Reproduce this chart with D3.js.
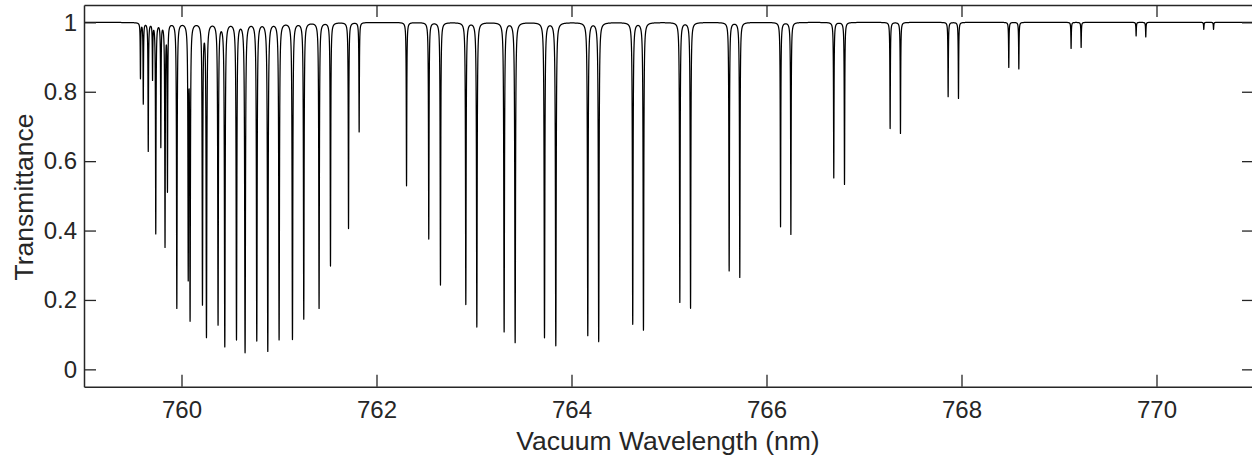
<!DOCTYPE html>
<html><head><meta charset="utf-8">
<script src="https://cdn.jsdelivr.net/npm/d3@7"></script>
<style>
body{margin:0;background:#fff}
svg{display:block}
text{font-family:"Liberation Sans",Arial,Helvetica,sans-serif}
</style>
</head><body>
<svg id="chart" width="1252" height="456"></svg>
<script>
// Absorption line centres (nm) and transmittance at each line minimum
const lineCenters = [
  759.579, 759.608, 759.659, 759.703, 759.736, 759.788, 759.831, 759.856,
  759.952, 760.069, 760.088, 760.215, 760.256, 760.375, 760.444, 760.564,
  760.652, 760.772, 760.885, 761.001, 761.138, 761.254, 761.411, 761.528,
  761.713, 761.822,
  762.308, 762.536, 762.656, 762.916, 763.029, 763.309, 763.422, 763.723,
  763.839, 764.167, 764.279, 764.628, 764.738, 765.111, 765.221, 765.617,
  765.726, 766.144, 766.250, 766.690, 766.800, 767.268, 767.374, 767.863,
  767.969, 768.485, 768.588, 769.124, 769.227, 769.791, 769.890, 770.485,
  770.585
];
const lineMinT = [
  0.840, 0.767, 0.630, 0.840, 0.392, 0.644, 0.355, 0.517,
  0.176, 0.264, 0.142, 0.187, 0.092, 0.128, 0.065, 0.085,
  0.048, 0.082, 0.052, 0.085, 0.086, 0.145, 0.176, 0.298,
  0.406, 0.685,
  0.529, 0.376, 0.243, 0.187, 0.122, 0.108, 0.077, 0.091,
  0.068, 0.097, 0.080, 0.130, 0.113, 0.193, 0.176, 0.284,
  0.265, 0.411, 0.389, 0.552, 0.533, 0.694, 0.680, 0.786,
  0.781, 0.870, 0.866, 0.925, 0.928, 0.961, 0.958, 0.980,
  0.980
];
const lineHalfWidth = 0.0025; // nm, Lorentzian half width of each line
const xDomain = [759, 771];
const yDomain = [-0.05, 1.05];
const xTicks = [760, 762, 764, 766, 768, 770];
const yTicks = [0, 0.2, 0.4, 0.6, 0.8, 1];
const xLabel = "Vacuum Wavelength (nm)";
const yLabel = "Transmittance";

const svg = d3.select("#chart");
const L = 84, R = 1254, T = 5, B = 386.7;
const axisColor = "#262626";

const x = d3.scaleLinear().domain(xDomain).range([L, R]);
const y = d3.scaleLinear().domain(yDomain).range([B, T]);

// spectrum: transmittance built from the line list
const tau = lineMinT.map(t => -Math.log(t));
const pts = [];
const step = 0.0005;
const grid = d3.range(xDomain[0], xDomain[1] + step / 2, step).concat(lineCenters);
grid.sort((a, b) => a - b);
for (const w of grid) {
  let od = 0;
  for (let i = 0; i < lineCenters.length; i++) {
    const d = (w - lineCenters[i]) / lineHalfWidth;
    od += tau[i] / (1 + d * d);
  }
  pts.push([w, Math.exp(-od)]);
}

svg.append("defs").append("clipPath").attr("id", "clip")
  .append("rect").attr("x", L).attr("y", T).attr("width", R - L).attr("height", B - T);

svg.append("path")
  .datum(pts)
  .attr("clip-path", "url(#clip)")
  .attr("fill", "none")
  .attr("stroke", "#000")
  .attr("stroke-width", 1.25)
  .attr("stroke-linejoin", "round")
  .attr("d", d3.line().x(d => x(d[0])).y(d => y(d[1])));

const tickLen = 12;
function styleAxis(g) {
  g.attr("color", axisColor);
  g.select(".domain").attr("stroke-width", 1.5);
  g.selectAll(".tick line").attr("stroke-width", 1.3);
  g.selectAll("text").attr("font-size", 24).attr("fill", axisColor);
}

svg.append("g").attr("transform", `translate(0,${B})`)
  .call(d3.axisBottom(x).tickValues(xTicks).tickFormat(d3.format("d"))
    .tickSizeInner(-tickLen).tickSizeOuter(0).tickPadding(14))
  .call(styleAxis);
svg.append("g").attr("transform", `translate(0,${T})`)
  .call(d3.axisTop(x).tickValues(xTicks).tickFormat("")
    .tickSizeInner(-tickLen).tickSizeOuter(0))
  .call(styleAxis);
svg.append("g").attr("transform", `translate(${L},0)`)
  .call(d3.axisLeft(y).tickValues(yTicks).tickFormat(d => d === 0 || d === 1 ? String(d) : d3.format(".1f")(d))
    .tickSizeInner(-tickLen).tickSizeOuter(0).tickPadding(7))
  .call(styleAxis);
svg.append("g").attr("transform", `translate(${R},0)`)
  .call(d3.axisRight(y).tickValues(yTicks).tickFormat("")
    .tickSizeInner(-tickLen).tickSizeOuter(0))
  .call(styleAxis);

svg.selectAll("g text").attr("font-family", '"Liberation Sans",Arial,sans-serif');

svg.append("text")
  .attr("x", (L + 1252) / 2).attr("y", 450)
  .attr("text-anchor", "middle")
  .attr("font-size", 26.5).attr("fill", axisColor)
  .text(xLabel);

svg.append("text")
  .attr("transform", `translate(33,197) rotate(-90)`)
  .attr("text-anchor", "middle")
  .attr("font-size", 26.5).attr("fill", axisColor)
  .text(yLabel);
</script>
</body></html>
